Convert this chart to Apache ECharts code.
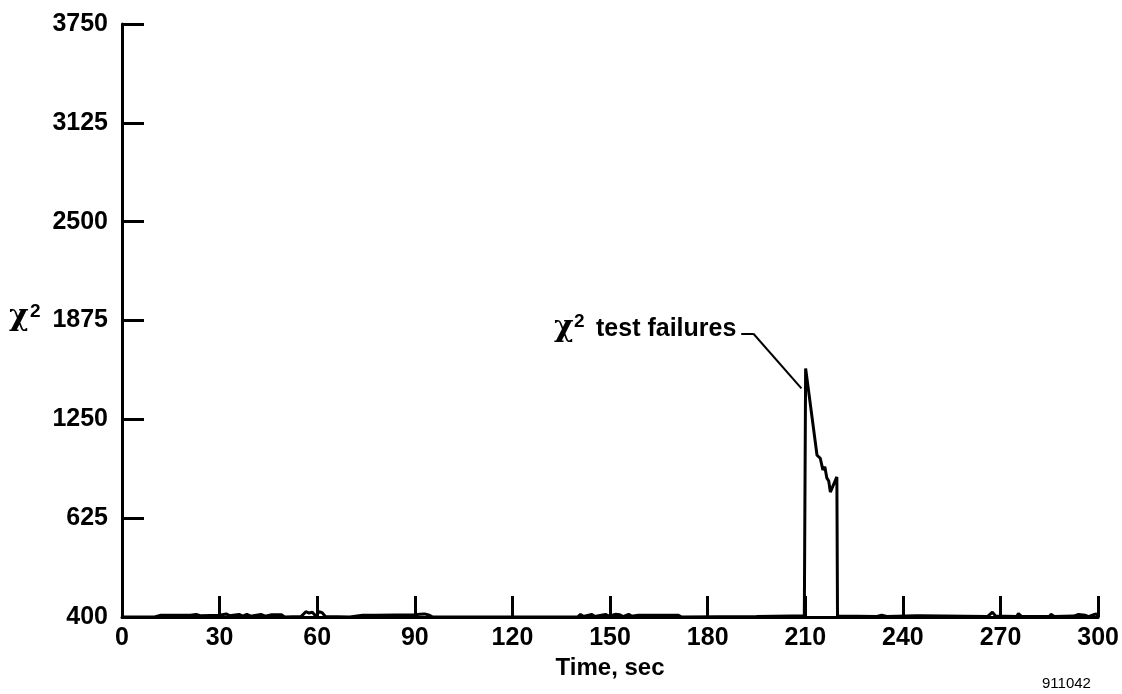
<!DOCTYPE html>
<html>
<head>
<meta charset="utf-8">
<script src="https://cdn.jsdelivr.net/npm/echarts@6/dist/echarts.min.js"></script>
<style>
html,body{margin:0;padding:0;background:#fff;}
#chart{width:1122px;height:694px;}
</style>
</head>
<body>
<div id="chart"></div>
<script>
// Time (sec) and chi-square values
const timeSec = [0,10,10.5,12,21,22.8,24,30,32,33,36,37,38.4,39.5,42.7,44,46,49,50,55,56.5,57.5,58.5,59.5,60.6,61.5,62.5,70,74,78,90,91.5,93,94.5,95.5,140,140.9,141.8,144.4,145.3,148.6,149.5,151.6,153,154,155.7,156.6,158.7,171,172,195,206,209.7,210.1,213.6,214.6,215.4,216.0,216.6,217.2,217.7,219.7,219.9,220.2,232,233.5,235,244,245.5,246,266,267.5,268.5,275,275.5,276.5,285,285.5,286.5,292.5,294,296,297,298.5,299.5,300];
const chiSquare = [400,400,403,404,404,406,403,404,407,403,406,402,406,402,406,402,405,405,400,401,412,409,411,402,412,410,401,400,404,404,405,406,407,404,400,400,406,401,406,401,406,402,406,405,401,406,402,404,404,400,401,402,402,1572,1023,1004,930,950,880,860,790,886,402,400,401,404,401,403,403,400,401,411,402,401,408,401,401,406,401,402,406,404,401,405,407,401];
const yTickLabels = ['400','625','1250','1875','2500','3125','3750'];
// leader line of the annotation (time, chi-square)
const leaderPath = [[190.3,1793],[194,1793],[208.8,1446]];

// The bottom segment of the y-axis is broken: 400..625 occupies one full tick interval
function toAxis(v){ return v < 625 ? (v - 400) * 625 / 225 : v; }

const seriesData = timeSec.map((t,i)=>[t, toAxis(chiSquare[i])]);
const FONT = '"Liberation Sans", Arial, Helvetica, sans-serif';
const CHI = 'bold 30px "DejaVu Serif", serif';

const chart = echarts.init(document.getElementById('chart'), null, {renderer:'canvas'});
chart.setOption({
  animation:false,
  backgroundColor:'#fff',
  grid:{left:122, right:22, top:24, bottom:77, containLabel:false},
  xAxis:{
    type:'value', min:0, max:300, interval:30,
    name:'Time, sec', nameLocation:'middle', nameGap:29,
    nameTextStyle:{fontFamily:FONT, fontWeight:'bold', fontSize:24, color:'#000'},
    axisLine:{show:true, lineStyle:{color:'#000', width:3}},
    axisTick:{show:true, inside:true, length:21, lineStyle:{color:'#000', width:3}},
    axisLabel:{fontFamily:FONT, fontWeight:'bold', fontSize:25, color:'#000', margin:9},
    splitLine:{show:false}
  },
  yAxis:{
    type:'value', min:0, max:3750, interval:625,
    axisLine:{show:true, lineStyle:{color:'#000', width:3}},
    axisTick:{show:true, inside:true, length:22, lineStyle:{color:'#000', width:3}},
    axisLabel:{fontFamily:FONT, fontWeight:'bold', fontSize:25, color:'#000', margin:14,
      formatter:function(v){ return yTickLabels[Math.round(v/625)]; }},
    splitLine:{show:false}
  },
  series:[{
    type:'line', data:seriesData, showSymbol:false, symbol:'none',
    lineStyle:{color:'#000', width:3}, silent:true,
    markLine:{
      silent:true, symbol:'none', animation:false,
      label:{show:false},
      lineStyle:{color:'#000', width:2, type:'solid'},
      data:[
        [{coord:leaderPath[0]},{coord:leaderPath[1]}],
        [{coord:leaderPath[1]},{coord:leaderPath[2]}]
      ]
    }
  }],
  graphic:[
    {type:'text', left:9, top:302, style:{text:'χ', font:CHI, fill:'#000'}},
    {type:'text', left:30, top:302, style:{text:'2', font:'bold 19px '+FONT, fill:'#000'}},
    {type:'text', left:554, top:313, style:{text:'χ', font:CHI, fill:'#000'}},
    {type:'text', left:574, top:312, style:{text:'2', font:'bold 19px '+FONT, fill:'#000'}},
    {type:'text', left:596, top:317, style:{text:'test failures', font:'bold 25px '+FONT, fill:'#000'}},
    {type:'text', left:1042, top:676, style:{text:'911042', font:'15px '+FONT, fill:'#000'}}
  ]
});
</script>
</body>
</html>
